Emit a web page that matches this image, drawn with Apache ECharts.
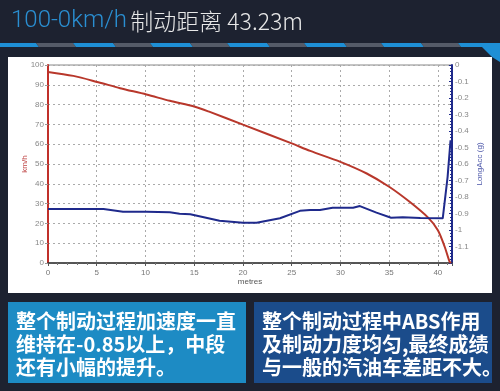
<!DOCTYPE html>
<html><head><meta charset="utf-8">
<script src="https://cdn.jsdelivr.net/npm/echarts@6/dist/echarts.min.js"></script>
<style>html,body{margin:0;padding:0;background:#1d2230;}#c{width:500px;height:391px;}</style>
</head><body><div id="c"></div>
<script>
// ---- data ----
const speedDist = [0,2.6,5.16,7.4,10.1,12.5,15.08,16.6,20.0,25.0,26.9,30.0,32.7,35.0,37.1,39.0,40.0,40.7,41.2,41.35];
const speedVal  = [96.5,94.5,91.3,88.3,85.1,81.9,78.9,76.3,69.9,60.4,56.6,51.1,45.2,38.5,30.9,22.9,16.6,8.2,0.7,0];
const accDist = [0,5.7,7.7,10.1,12.5,13.5,14.6,17.6,20.0,21.4,23.8,25.85,26.9,27.9,29.2,31.3,32.0,33.7,35.2,36.4,38.2,40.5,40.7,41.0,41.3];
const accVal  = [-0.873,-0.873,-0.889,-0.889,-0.893,-0.901,-0.905,-0.944,-0.956,-0.956,-0.929,-0.884,-0.879,-0.879,-0.865,-0.865,-0.855,-0.895,-0.926,-0.923,-0.928,-0.929,-0.925,-0.678,-0.456];
const xTicks = [0,5,10,15,20,25,30,35,40];
const titleBlue = '100-0km/h';
const titleWhite = '制动距离 43.23m';
const leftNote = ['整个制动过程加速度一直','维持在-0.85以上，中段','还有小幅的提升。'];
const rightNote = ['整个制动过程中ABS作用','及制动力度均匀,最终成绩','与一般的汽油车差距不大。'];

const chart = echarts.init(document.getElementById('c'), null, {renderer:'canvas'});
const stripes = [];
for (let i = 0; i < 8; i++) {
  const x0 = i * 77 - 4;
  stripes.push({type:'polygon', shape:{points:[[x0,43],[x0+40,43],[x0+43,47],[x0+3,47]]}, style:{fill:'#1e8fd5'}, z:1});
  stripes.push({type:'polygon', shape:{points:[[x0+40,43],[x0+77,43],[x0+80,47],[x0+43,47]]}, style:{fill:'#555b68'}, z:1});
}
chart.setOption({
  backgroundColor:'#1d2230',
  animation:false,
  graphic:[
    {type:'rect', shape:{x:8,y:57,width:484,height:236}, style:{fill:'#ffffff'}, z:-10, silent:true},
    ...stripes,
    {type:'polygon', shape:{points:[[478,43],[500,43],[500,62],[492,57]]}, style:{fill:'#1e8fd5'}, z:2},
    {type:'text', left:11, top:9, style:{text:'{a|'+titleBlue+'} {b|'+titleWhite+'}', rich:{
      a:{fill:'#2a8fd2', fontSize:24, fontFamily:'Roboto, "Noto Sans CJK SC", sans-serif', fontWeight:300},
      b:{fill:'#e8e8e8', fontSize:23, fontFamily:'"Noto Sans CJK SC", Roboto, sans-serif', fontWeight:300}}}},
    {type:'rect', shape:{x:8,y:302,width:238,height:81}, style:{fill:'#1d8bc4'}},
    {type:'rect', shape:{x:254,y:302,width:238,height:81}, style:{fill:'#1b4c8b'}},
    {type:'text', left:16, top:310, style:{text:leftNote.join('\n'), fill:'#ffffff', fontSize:20, lineHeight:23, fontWeight:'bold', fontFamily:'"Noto Sans CJK SC", sans-serif'}},
    {type:'text', left:262, top:310, style:{text:rightNote.join('\n'), fill:'#ffffff', fontSize:20, lineHeight:23, fontWeight:'bold', fontFamily:'"Noto Sans CJK SC", sans-serif'}}
  ],
  grid:{left:48, right:48, top:65, height:198, show:true, borderColor:'#888', borderWidth:1, backgroundColor:'#fff'},
  xAxis:{type:'value', min:0, max:41.45, interval:5, name:'metres', nameLocation:'middle', nameGap:15, nameMoveOverlap:false,
    nameTextStyle:{color:'#555', fontSize:8, fontFamily:'Liberation Sans'},
    axisLine:{lineStyle:{color:'#333', width:1.5}},
    axisTick:{show:true, length:3, lineStyle:{color:'#555'}},
    minorTick:{show:true, splitNumber:5, length:2, lineStyle:{color:'#777'}},
    axisLabel:{color:'#777', fontSize:8, margin:6, showMaxLabel:false, fontFamily:'Liberation Sans',
      formatter:v=>xTicks.includes(v)?String(v):''},
    splitLine:{show:true, lineStyle:{color:'#aaa', type:[2,3], width:1}}},
  yAxis:[
    {type:'value', min:0, max:100, interval:10, position:'left', name:'km/h', nameLocation:'middle', nameGap:19, nameMoveOverlap:false,
      nameTextStyle:{color:'#c04848', fontSize:8, fontFamily:'Liberation Sans'},
      axisLine:{show:true, lineStyle:{color:'#c0302a', width:2}},
      axisTick:{show:true, length:3, lineStyle:{color:'#999'}},
      axisLabel:{color:'#888', fontSize:8, margin:4, fontFamily:'Liberation Sans'},
      splitLine:{show:true, lineStyle:{color:'#aaa', type:[2,3], width:1}}},
    {type:'value', min:-1.2, max:0, interval:0.1, position:'right', name:'LongAcc (g)', nameLocation:'middle', nameGap:24, nameMoveOverlap:false,
      nameTextStyle:{color:'#4a55a8', fontSize:8, fontFamily:'Liberation Sans'},
      axisLine:{show:true, lineStyle:{color:'#1f2a8a', width:2}},
      axisTick:{show:true, inside:true, length:3, lineStyle:{color:'#1f2a8a'}},
      minorTick:{show:true, splitNumber:5, length:2, lineStyle:{color:'#1f2a8a'}},
      axisLabel:{color:'#888', fontSize:8, margin:3, showMinLabel:false, fontFamily:'Liberation Sans',
        formatter:v=>String(Math.round(v*10)/10)},
      splitLine:{show:false}}
  ],
  series:[
    {type:'line', yAxisIndex:0, data:speedDist.map((d,i)=>[d,speedVal[i]]), showSymbol:false, smooth:0.3,
      lineStyle:{color:'#b8372b', width:2}, z:3},
    {type:'line', yAxisIndex:1, data:accDist.map((d,i)=>[d,accVal[i]]), showSymbol:false,
      lineStyle:{color:'#1f2a8c', width:2}, z:4}
  ]
});
</script></body></html>
